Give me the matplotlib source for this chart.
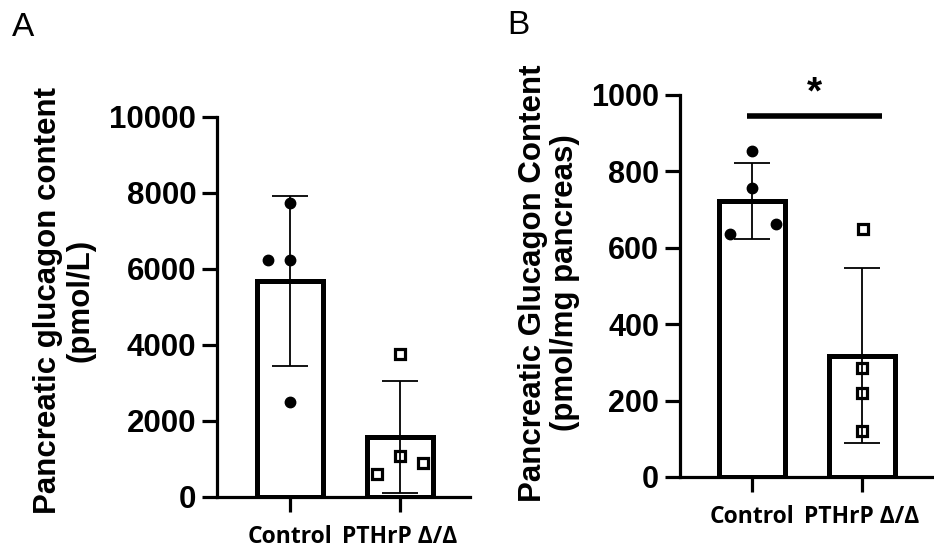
import numpy as np
import matplotlib
import matplotlib.pyplot as plt
matplotlib.use('Agg')

groups = ["Control", "PTHrP \u0394/\u0394"]

# panel A: pancreatic glucagon content (pmol/L)
a_mean = [5690, 1575]
a_sd = [2240, 1465]
a_ctrl_pts = [6240, 6240, 7740, 2510]
a_ctrl_dx = [-0.2, 0.0, 0.0, 0.0]
a_ko_pts = [3760, 1080, 610, 885]
a_ko_dx = [0.0, 0.0, -0.21, 0.21]

# panel B: pancreatic glucagon content (pmol/mg pancreas)
b_mean = [722, 318]
b_sd = [100, 230]
b_ctrl_pts = [853, 756, 635, 662]
b_ctrl_dx = [0.0, 0.0, -0.2, 0.22]
b_ko_pts = [650, 285, 221, 120]
b_ko_dx = [0.01, 0.0, 0.0, 0.0]

plt.rcParams['font.family'] = ['Liberation Sans', 'DejaVu Sans']

fig = plt.figure(figsize=(9.34, 5.53), dpi=100)
axA = fig.add_axes([217/934, 56/553, 253/934, 380/553])
axB = fig.add_axes([680/934, 76/553, 252/934, 382/553])


def draw_panel(ax, mean, sd, ctrl_pts, ctrl_dx, ko_pts, ko_dx, ymax, ystep, tsize):
    x = np.arange(len(groups))
    ax.bar(x, mean, width=0.6, color='white', edgecolor='black', linewidth=3.6, zorder=2)
    ax.plot(x[0] + np.array(ctrl_dx), ctrl_pts, 'o', color='black', markersize=7.5, zorder=3,
            clip_on=False)
    ax.plot(x[1] + np.array(ko_dx), ko_pts, 's', markerfacecolor='white', markeredgecolor='black',
            markersize=7, markeredgewidth=2.3, zorder=3, clip_on=False)
    ax.errorbar(x, mean, yerr=sd, fmt='none', ecolor='black', elinewidth=1.3, capsize=13,
                capthick=1.3, zorder=4)
    ax.set_xlim(-0.66, 1.64)
    ax.set_ylim(0, ymax)
    ax.set_yticks(np.arange(0, ymax + 1, ystep))
    ax.set_xticks(x)
    ax.set_xticklabels(groups, fontsize=16.5, fontweight='bold', family=['Open Sans', 'DejaVu Sans'])
    for lab in ax.get_yticklabels():
        lab.set_fontsize(tsize)
        lab.set_fontweight('bold')
    ax.spines['top'].set_visible(False)
    ax.spines['right'].set_visible(False)
    ax.spines['left'].set_linewidth(2.3)
    ax.spines['bottom'].set_linewidth(2.3)
    ax.tick_params(axis='y', length=11, width=2.3, pad=4)
    ax.tick_params(axis='x', length=11, width=2.3, pad=9)


draw_panel(axA, a_mean, a_sd, a_ctrl_pts, a_ctrl_dx, a_ko_pts, a_ko_dx, 10000, 2000, 22.5)
draw_panel(axB, b_mean, b_sd, b_ctrl_pts, b_ctrl_dx, b_ko_pts, b_ko_dx, 1000, 200, 22)

# significance bar
axB.plot([-0.05, 1.18], [946, 946], color='black', linewidth=4, clip_on=False, solid_capstyle='butt')
axB.text(0.57, 958, "*", ha='center', va='bottom', fontsize=28, fontweight='bold')

fig.text(64/934, 1 - 300/553, "Pancreatic glucagon content\n(pmol/L)", rotation=90,
         ha='center', va='center', fontsize=22.5, fontweight='bold', linespacing=1.12)
fig.text(549/934, 1 - 283/553, "Pancreatic Glucagon Content\n(pmol/mg pancreas)", rotation=90,
         ha='center', va='center', fontsize=22.5, fontweight='bold', linespacing=1.1)

fig.text(12/934, 1 - 27/553, "A", fontsize=24, va='center', ha='left')
fig.text(507/934, 1 - 25/553, "B", fontsize=24, va='center', ha='left')

plt.savefig("out.png", dpi=100, facecolor='white')
